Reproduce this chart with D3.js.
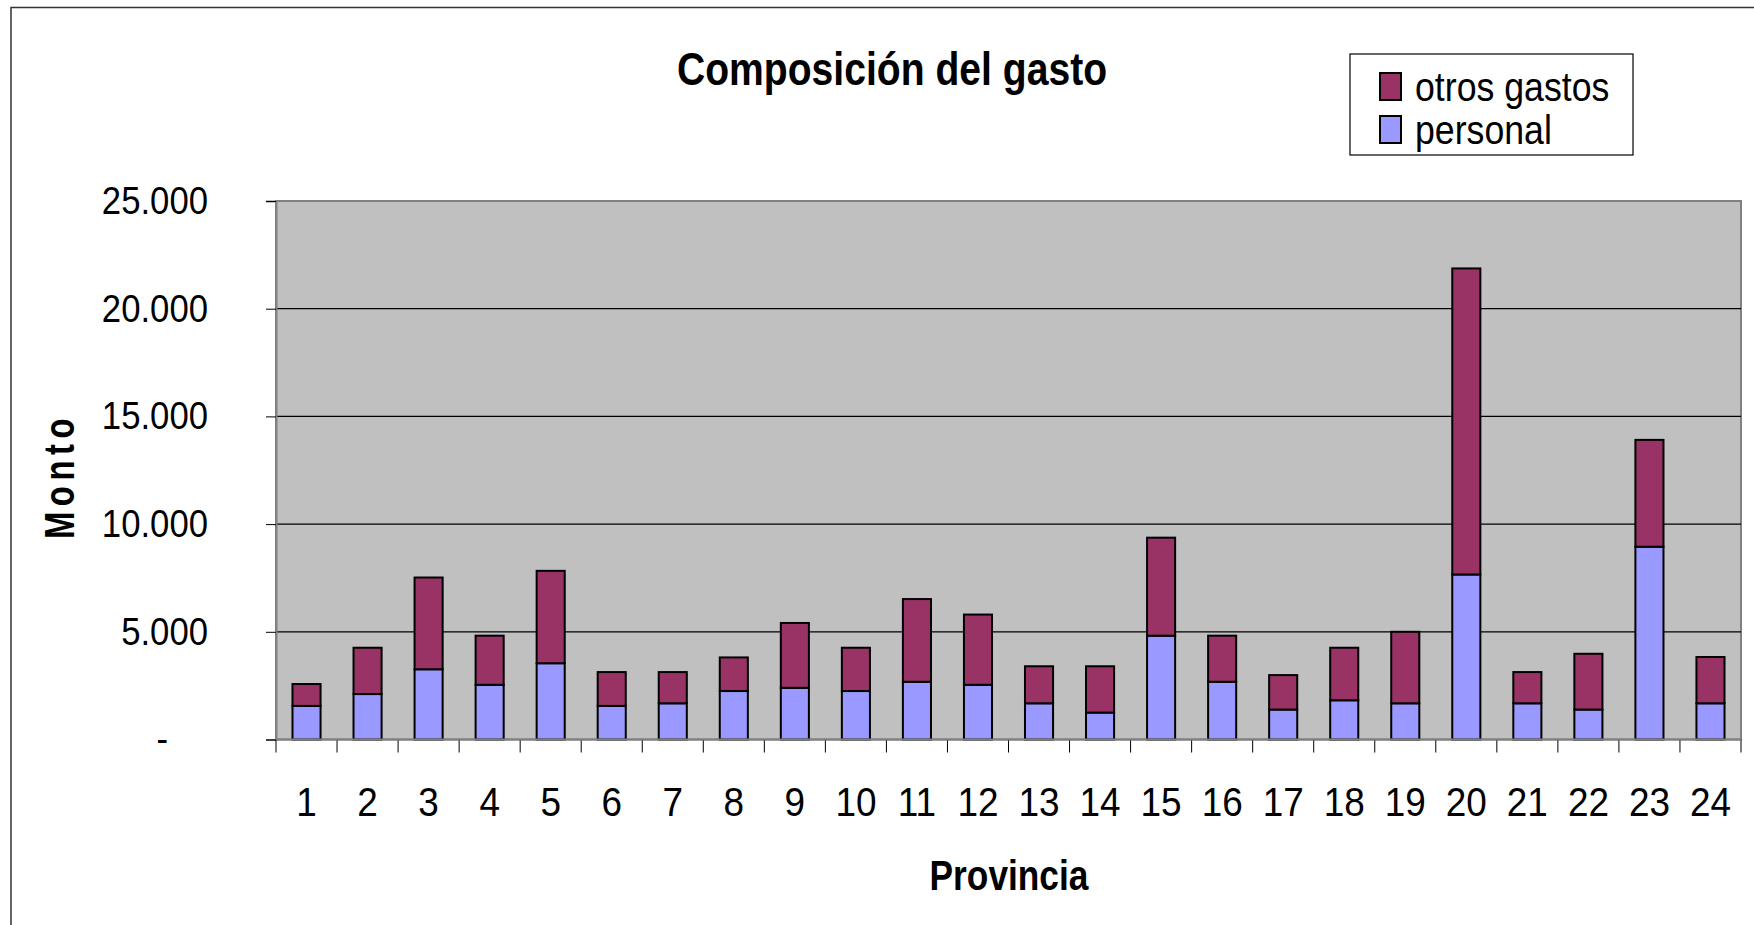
<!DOCTYPE html>
<html lang="es">

<head>
    <meta charset="UTF-8" />
    <title>Composición del gasto</title>
    <style>
        body { margin: 0; background: #fff; }
        text { font-family: "Liberation Sans", Arial, sans-serif; fill: #000; }
    </style>
</head>

<body>
    <div id="container"></div>
</body>
<script src="https://cdnjs.cloudflare.com/ajax/libs/d3/7.8.5/d3.min.js"></script>
<script>
    // datos
    let provincias = d3.range(1, 25).map(String),
        personal = [1560, 2110, 3260, 2540, 3540, 1560, 1680, 2250, 2400, 2250, 2680, 2540,
            1680, 1250, 4820, 2680, 1390, 1820, 1680, 7660, 1680, 1390, 8950, 1680],
        otros = [1015, 2150, 4260, 2280, 4290, 1570, 1450, 1560, 3010, 2010, 3840, 3260,
            1720, 2150, 4550, 2140, 1600, 2440, 3320, 14210, 1450, 2590, 4960, 2150],
        yTicks = [0, 5000, 10000, 15000, 20000, 25000],
        series = ["personal", "otros"],
        seriesLabels = { personal: "personal", otros: "otros gastos" },
        colors = { personal: "#9999FF", otros: "#993366" };

    let W = 1754, H = 925,
        plot = { left: 276, right: 1741, top: 201, bottom: 739.5 };

    let rows = provincias.map((p, i) => ({ prov: p, personal: personal[i], otros: otros[i] }));
    let stacked = d3.stack().keys(series)(rows);

    let x = d3.scaleBand().domain(provincias)
        .range([plot.left, plot.right])
        .paddingInner(0.54).paddingOuter(0.27);
    let y = d3.scaleLinear().domain([0, 25000]).range([plot.bottom, plot.top]);

    // texto algo condensado, como en el original
    function squeeze(sel, k) {
        sel.each(function () {
            let w = this.getComputedTextLength();
            d3.select(this).attr('textLength', w * k).attr('lengthAdjust', 'spacingAndGlyphs');
        });
    }

    let svg = d3.select("#container").append("svg").attr("width", W).attr("height", H);

    // borde del área del gráfico
    svg.append("rect").attr("x", 11).attr("y", 7.5).attr("width", W + 20).attr("height", H + 20)
        .attr("fill", "#fff").attr("stroke", "#333").attr("stroke-width", 1.5);

    // área de trazado
    svg.append("rect")
        .attr("x", plot.left).attr("y", y(25000))
        .attr("width", plot.right - plot.left).attr("height", y(0) - y(25000))
        .attr("fill", "#C0C0C0").attr("stroke", "#808080").attr("stroke-width", 2);

    // líneas de división
    svg.append("g").selectAll("line").data(yTicks.filter(d => d > 0 && d < 25000)).enter().append("line")
        .attr("x1", plot.left).attr("x2", plot.right)
        .attr("y1", d => y(d)).attr("y2", d => y(d))
        .attr("stroke", "#000").attr("stroke-width", 1.2);

    // barras apiladas
    let layer = svg.append("g").selectAll("g").data(stacked).enter().append("g")
        .attr("fill", d => colors[d.key]);
    layer.selectAll("rect").data(d => d).enter().append("rect")
        .attr("x", d => x(d.data.prov))
        .attr("width", x.bandwidth())
        .attr("y", d => y(d[1]))
        .attr("height", d => y(d[0]) - y(d[1]))
        .attr("stroke", "#000").attr("stroke-width", 2);

    // eje Y
    let yAxis = svg.append("g").attr("transform", `translate(${plot.left},0)`)
        .call(d3.axisLeft(y).tickValues(yTicks).tickSize(10).tickPadding(58)
            .tickFormat(d => d === 0 ? "-" : d3.format(",")(d).replace(/,/g, ".")));
    yAxis.select(".domain").attr("stroke", "#808080").attr("stroke-width", 2);
    yAxis.selectAll(".tick line").attr("stroke", "#000");
    yAxis.selectAll(".tick text").attr("font-size", 39).attr("font-family", null);
    yAxis.selectAll(".tick text").filter(d => d === 0).attr("x", -108);
    squeeze(yAxis.selectAll(".tick text"), 0.89);

    // eje X
    let xAxis = svg.append("g").attr("transform", `translate(0,${plot.bottom})`)
        .call(d3.axisBottom(x).tickSize(0).tickPadding(47));
    xAxis.select(".domain").remove();
    xAxis.selectAll(".tick text").attr("font-size", 41).attr("font-family", null);
    squeeze(xAxis.selectAll(".tick text"), 0.9);
    // marcas entre categorías
    let bounds = provincias.map(p => x(p) - x.step() * x.paddingInner() / 2).concat([plot.right]);
    svg.append("g").selectAll("line").data(bounds).enter().append("line")
        .attr("x1", d => d).attr("x2", d => d)
        .attr("y1", plot.bottom).attr("y2", plot.bottom + 13)
        .attr("stroke", "#000").attr("stroke-width", 1);
    svg.append("line").attr("x1", plot.left).attr("x2", plot.right)
        .attr("y1", plot.bottom).attr("y2", plot.bottom)
        .attr("stroke", "#808080").attr("stroke-width", 2);

    // títulos
    let title = svg.append("text").attr("x", 892).attr("y", 85).attr("text-anchor", "middle")
        .attr("font-size", 46).attr("font-weight", "bold").text("Composición del gasto");
    squeeze(title, 0.85);

    let xTitle = svg.append("text").attr("x", 1009).attr("y", 890).attr("text-anchor", "middle")
        .attr("font-size", 42).attr("font-weight", "bold").text("Provincia");
    squeeze(xTitle, 0.84);

    let yTitle = svg.append("text").attr("transform", "translate(74,476) rotate(-90)")
        .attr("text-anchor", "middle").attr("font-size", 42).attr("font-weight", "bold")
        .attr("letter-spacing", 7).text("Monto");
    yTitle.attr("textLength", 126).attr("lengthAdjust", "spacingAndGlyphs");

    // leyenda
    let legend = svg.append("g");
    legend.append("rect").attr("x", 1350).attr("y", 54).attr("width", 283).attr("height", 101)
        .attr("fill", "#fff").attr("stroke", "#000").attr("stroke-width", 1.2);
    let item = legend.selectAll("g").data(["otros", "personal"]).enter().append("g")
        .attr("transform", (d, i) => `translate(1380,${73 + i * 43})`);
    item.append("rect").attr("width", 21).attr("height", 27)
        .attr("fill", d => colors[d]).attr("stroke", "#000").attr("stroke-width", 2);
    let ltext = item.append("text").attr("x", 35).attr("y", 28)
        .attr("font-size", 41).text(d => seriesLabels[d]);
    squeeze(ltext, 0.87);
</script>

</html>
